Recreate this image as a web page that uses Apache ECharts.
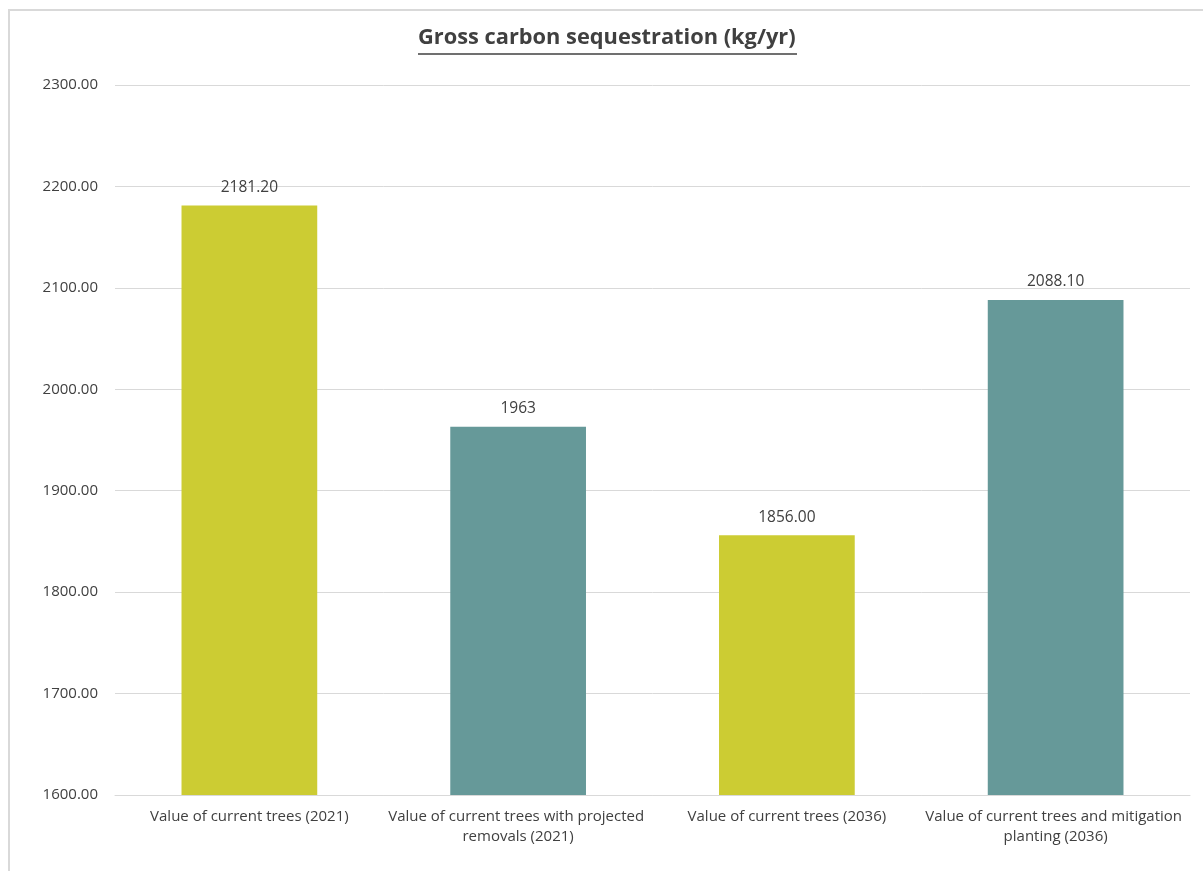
<!DOCTYPE html>
<html><head><meta charset="utf-8">
<script src="https://cdn.jsdelivr.net/npm/echarts@6/dist/echarts.min.js"></script>
<style>html,body{margin:0;padding:0;background:#fff}#c{width:1203px;height:871px}</style>
</head><body><div id="c"></div>
<script>
const categories = ["Value of current trees (2021)", "Value of current trees with projected removals (2021)", "Value of current trees (2036)", "Value of current trees and mitigation planting (2036)"];
const values = [2181.2, 1963, 1856.0, 2088.1];
const valueLabels = ["2181.20", "1963", "1856.00", "2088.10"];
const barColors = ["#CCCC33", "#669999", "#CCCC33", "#669999"];
const yTicks = { min: 1600, max: 2300, interval: 100 };

const chart = echarts.init(document.getElementById('c'));
chart.setOption({
  animation: false,
  backgroundColor: '#fff',
  title: { text: 'Gross carbon sequestration (kg/yr)', left: 418, top: 27, padding: 0,
    textStyle: { fontFamily: 'Open Sans', fontWeight: 'bold', fontSize: 21.8, color: '#404040' } },
  graphic: [
    { type: 'line', shape: { x1: 418, y1: 54, x2: 797, y2: 54 }, style: { stroke: '#404040', lineWidth: 1.5 } },
    { type: 'polyline', shape: { points: [[9, 871], [9, 10], [1203, 10]] }, style: { stroke: '#d9d9d9', lineWidth: 2, fill: null } }
  ],
  grid: { left: 115, right: 13, top: 85, bottom: 76 },
  xAxis: { type: 'category', data: categories,
    axisLine: { lineStyle: { color: '#d9d9d9', width: 1 } }, axisTick: { show: false },
    axisLabel: { interval: 0, width: 266, overflow: 'break', color: '#404040', fontFamily: 'Open Sans', fontSize: 15, lineHeight: 20, margin: 12 } },
  yAxis: { type: 'value', min: yTicks.min, max: yTicks.max, interval: yTicks.interval,
    axisLine: { show: false }, axisTick: { show: false },
    splitLine: { lineStyle: { color: '#d9d9d9', width: 1 } },
    axisLabel: { formatter: v => v.toFixed(2), color: '#404040', fontFamily: 'Open Sans', fontSize: 15, margin: 17 } },
  series: [{ type: 'bar', barWidth: '50.5%',
    data: values.map((v, i) => ({ value: v, itemStyle: { color: barColors[i] } })),
    label: { show: true, position: 'top', distance: 10, color: '#404040', fontFamily: 'Open Sans', fontSize: 15.5,
      formatter: p => valueLabels[p.dataIndex] } }]
});
</script></body></html>
